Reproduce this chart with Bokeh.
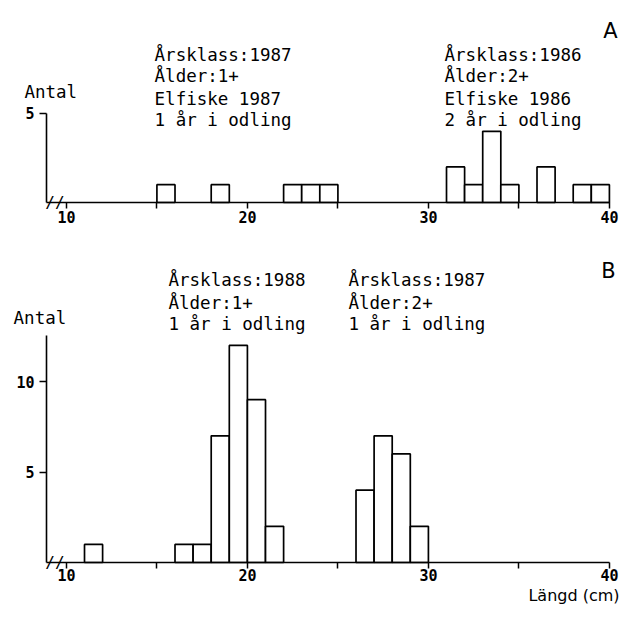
from bokeh.plotting import figure
from bokeh.models import Range1d, FixedTicker, Label
from bokeh.layouts import column
from bokeh.embed import file_html
from bokeh.resources import INLINE

# ---- data -------------------------------------------------------------
# Panel A: length-class start (cm) and number of fish
lengths_a = [15, 18, 22, 23, 24, 31, 32, 33, 34, 36, 38, 39]
counts_a = [1, 1, 1, 1, 1, 2, 1, 4, 1, 2, 1, 1]
# Panel B
lengths_b = [11, 16, 17, 18, 19, 20, 21, 26, 27, 28, 29]
counts_b = [1, 1, 1, 7, 12, 9, 2, 4, 7, 6, 2]
bin_width = 1

x_ticks = [10, 20, 30, 40]
x_minor_ticks = [15, 25, 35]
y_ticks_a = [5]
y_ticks_b = [5, 10]

notes_a = [
    ["Årsklass:1987", "Ålder:1+", "Elfiske 1987", "1 år i odling"],
    ["Årsklass:1986", "Ålder:2+", "Elfiske 1986", "2 år i odling"],
]
notes_b = [
    ["Årsklass:1988", "Ålder:1+", "1 år i odling"],
    ["Årsklass:1987", "Ålder:2+", "1 år i odling"],
]

MONO = "DejaVu Sans Mono"
SANS = "DejaVu Sans"

X_AXIS_START = 8.9   # where the (broken) axis begins, left of 10 cm
X_AXIS_END = 40


def make_panel(lengths, counts, y_range, y_axis_top, y_ticks, height,
               label_std):
    p = figure(frame_width=621, frame_height=height,
               min_border=0,
               x_range=Range1d(6.3586, 40.668), y_range=y_range,
               output_backend="svg", toolbar_location=None)
    p.outline_line_color = None
    p.grid.visible = False
    p.background_fill_color = "white"
    p.border_fill_color = "white"

    right = [v + bin_width for v in lengths]
    p.quad(left=lengths, right=right, bottom=0, top=counts,
           fill_color="white", line_color="black", line_width=1.7)

    xa = p.xaxis[0]
    xa.fixed_location = 0
    xa.bounds = (X_AXIS_START, X_AXIS_END)
    xa.ticker = FixedTicker(ticks=x_ticks, minor_ticks=x_minor_ticks)
    xa.axis_line_width = 1.6
    xa.axis_line_color = "black"
    xa.major_tick_in = 0
    xa.major_tick_out = 6
    xa.minor_tick_in = 0
    xa.minor_tick_out = 6
    xa.major_tick_line_width = 1.5
    xa.minor_tick_line_width = 1.5
    xa.major_label_standoff = label_std
    xa.major_label_text_font = MONO
    xa.major_label_text_font_style = "bold"
    xa.major_label_text_font_size = "15px"
    xa.major_label_text_color = "black"

    ya = p.yaxis[0]
    ya.fixed_location = X_AXIS_START
    ya.bounds = (0, y_axis_top)
    ya.ticker = FixedTicker(ticks=y_ticks, minor_ticks=[])
    ya.axis_line_width = 1.6
    ya.axis_line_color = "black"
    ya.major_tick_in = 0
    ya.major_tick_out = 7
    ya.major_tick_line_width = 1.5
    ya.major_label_standoff = 5
    ya.major_label_text_font = MONO
    ya.major_label_text_font_style = "bold"
    ya.major_label_text_font_size = "15px"
    ya.major_label_text_color = "black"

    # axis break mark
    p.add_layout(Label(x=9.37, y=0, text="//", text_font=MONO,
                       text_font_size="16px", text_align="center",
                       text_baseline="middle", text_color="black"))
    return p


def add_text(p, x, y, txt, font=MONO, size="17.5px", align="left"):
    p.add_layout(Label(x=x, y=y, text=txt,
                       text_font=font, text_font_size=size,
                       text_align=align, text_baseline="middle",
                       text_color="black"))


# ---- panel A -----------------------------------------------------------
pa = make_panel(lengths_a, counts_a, Range1d(-1.6854, 11.348), 5,
                y_ticks_a, 232, 3)
for xpos, lines in zip([14.87, 30.89], notes_a):
    for line, ypos in zip(lines, [8.31, 7.08, 5.84, 4.66]):
        add_text(pa, xpos, ypos, line)
add_text(pa, 7.68, 6.18, "Antal")
add_text(pa, 40.06, 9.66, "A", font=SANS, size="21px", align="center")

# ---- panel B -----------------------------------------------------------
pb = make_panel(lengths_b, counts_b, Range1d(-2.598, 18.242), 12.55,
                y_ticks_b, 377, 0)
for xpos, lines in zip([15.64, 25.58], notes_b):
    for line, ypos in zip(lines, [15.59, 14.37, 13.21]):
        add_text(pb, xpos, ypos, line)
add_text(pb, 7.08, 13.49, "Antal")
add_text(pb, 39.95, 16.14, "B", font=SANS, size="21px", align="center")
add_text(pb, 40.56, -1.82, "Längd (cm)", font=SANS, size="16px",
         align="right")

layout = column(pa, pb, spacing=0)
open("out.html", "w").write(file_html(layout, INLINE))
